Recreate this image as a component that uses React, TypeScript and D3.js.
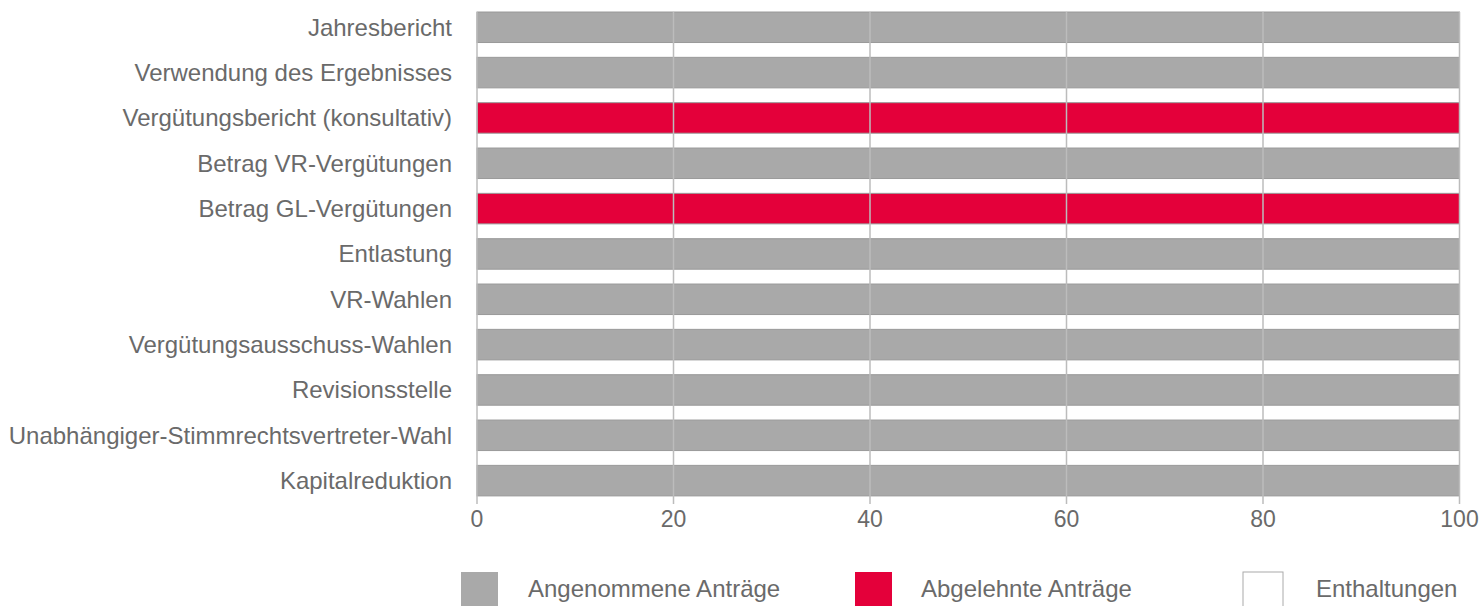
import React from "react";
import * as d3 from "d3";

const categories = [
  "Jahresbericht",
  "Verwendung des Ergebnisses",
  "Vergütungsbericht (konsultativ)",
  "Betrag VR-Vergütungen",
  "Betrag GL-Vergütungen",
  "Entlastung",
  "VR-Wahlen",
  "Vergütungsausschuss-Wahlen",
  "Revisionsstelle",
  "Unabhängiger-Stimmrechtsvertreter-Wahl",
  "Kapitalreduktion",
];
const angenommen = [100, 100, 0, 100, 0, 100, 100, 100, 100, 100, 100];
const abgelehnt = [0, 0, 100, 0, 100, 0, 0, 0, 0, 0, 0];
const enthaltungen = [0, 0, 0, 0, 0, 0, 0, 0, 0, 0, 0];
const xTicks = [0, 20, 40, 60, 80, 100];
const seriesNames = ["Angenommene Anträge", "Abgelehnte Anträge", "Enthaltungen"];
const seriesKeys = ["angenommen", "abgelehnt", "enthaltungen"];
const seriesColors = ["#a9a9a9", "#e4003a", "#ffffff"];

const W = 1483;
const H = 606;
const FONT = "Liberation Sans";
const TEXT = "#6a6a6a";

export default function App() {
  const rows = categories.map((c, i) => ({
    cat: c,
    angenommen: angenommen[i],
    abgelehnt: abgelehnt[i],
    enthaltungen: enthaltungen[i],
  }));
  const stack = d3.stack<any>().keys(seriesKeys);
  const stacked = stack(rows);

  const x = d3.scaleLinear().domain([0, 100]).range([477, 1459.5]);
  const y = d3
    .scaleBand<string>()
    .domain(categories)
    .range([4.6, 503.3])
    .paddingInner(0.327)
    .paddingOuter(0.1635);
  const bw = y.bandwidth();
  const plotTop = y(categories[0])!;
  const plotBottom = y(categories[categories.length - 1])! + bw;

  const legendX = [461, 855, 1243];
  const legendTextX = [528, 921, 1316];

  return (
    <svg
      width={W}
      height={H}
      style={{ position: "absolute", left: 0, top: 0, display: "block", fontFamily: FONT }}
    >
      <rect x={0} y={0} width={W} height={H} fill="#fff" />
      {stacked.map((s, si) =>
        s.map((d, i) => {
          const w = x(d[1]) - x(d[0]);
          if (w <= 0) return null;
          return (
            <rect
              key={`${si}-${i}`}
              x={x(d[0])}
              y={y(categories[i])!}
              width={w}
              height={bw}
              fill={seriesColors[si]}
              stroke="#999999"
              strokeWidth={1}
            />
          );
        })
      )}
      {xTicks.map((t) => (
        <g key={t}>
          <line
            x1={x(t)}
            x2={x(t)}
            y1={plotTop}
            y2={plotBottom + 8}
            stroke="#bcbcbc"
            strokeWidth={1.5}
          />
          <text
            x={x(t)}
            y={527}
            textAnchor="middle"
            fontSize={23}
            fill={TEXT}
            fontFamily={FONT}
          >
            {t}
          </text>
        </g>
      ))}
      {categories.map((c) => (
        <text
          key={c}
          x={452}
          y={y(c)! + bw / 2}
          dy="0.35em"
          textAnchor="end"
          fontSize={24}
          fill={TEXT}
          fontFamily={FONT}
        >
          {c}
        </text>
      ))}
      {seriesNames.map((n, i) => (
        <g key={n}>
          <rect
            x={legendX[i]}
            y={572}
            width={i === 2 ? 40 : 37}
            height={40}
            fill={seriesColors[i]}
            stroke={i === 2 ? "#aaaaaa" : "none"}
            strokeWidth={1}
          />
          <text x={legendTextX[i]} y={597} fontSize={24} fill={TEXT} fontFamily={FONT}>
            {n}
          </text>
        </g>
      ))}
    </svg>
  );
}
